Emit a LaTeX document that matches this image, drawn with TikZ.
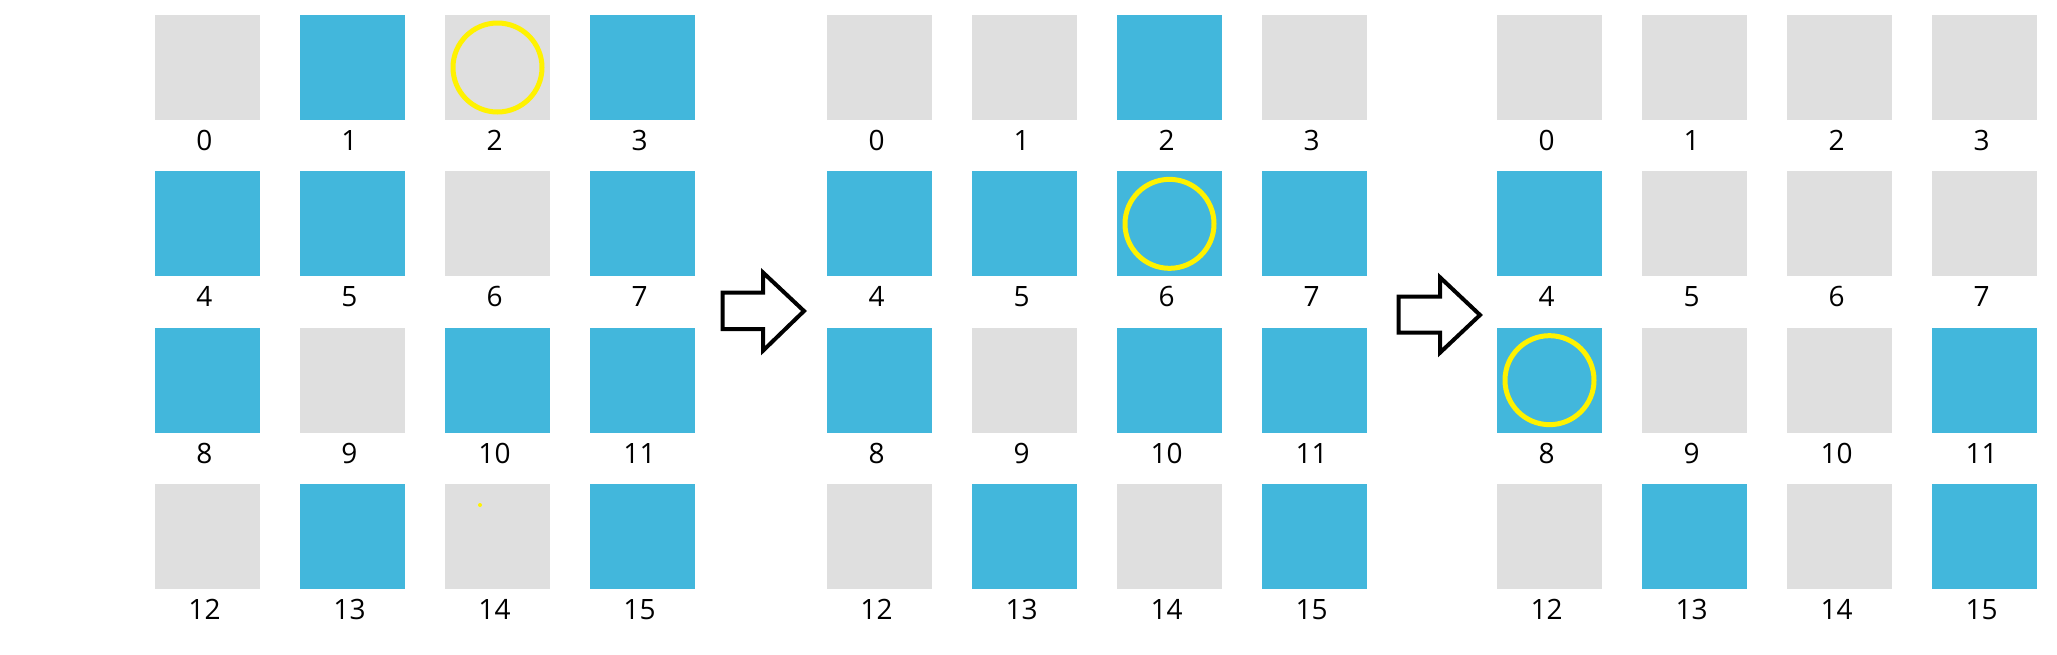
\documentclass[tikz,border=0pt]{standalone}
\usepackage{fontspec}
\setmainfont{Open Sans}
\definecolor{cellblue}{HTML}{42B7DC}
\definecolor{cellgray}{HTML}{DFDFDF}
\definecolor{ringyellow}{HTML}{FFF200}
\tikzset{
  cell/.style={minimum size=52.5pt,inner sep=0pt,outer sep=0pt},
  on/.style={cell,fill=cellblue},
  off/.style={cell,fill=cellgray},
  num/.style={font=\fontsize{14}{16}\selectfont,inner sep=0pt},
  ring/.style={circle,draw=ringyellow,line width=2.5pt,minimum size=44.5pt,inner sep=0pt},
  blockarrow/.style={draw=black,line width=2pt,line join=miter}
}
\newcommand{\cellgrid}[3]{%
  \foreach \s [count=\i from 0] in {#3} {
    \pgfmathsetmacro\cx{#2+52.5+145*mod(\i,4)}
    \pgfmathsetmacro\cy{67.5+156.33*div(\i,4)}
    \node[\s] (#1-\i) at (\cx,\cy) {};
    \node[num] (#1-n\i) at (\cx-3,\cy+73) {\i};
  }
}
\begin{document}
\begin{tikzpicture}[x=0.5pt,y=-0.5pt]
  \useasboundingbox (0,0) rectangle (2057,654);
  \cellgrid{a}{155}{off,on,off,on,on,on,off,on,on,off,on,on,off,on,off,on}
  \cellgrid{b}{827}{off,off,on,off,on,on,on,on,on,off,on,on,off,on,off,on}
  \cellgrid{c}{1497}{off,off,off,off,on,off,off,off,on,off,off,on,off,on,off,on}
  \node[ring] (a-ring) at (a-2) {};
  \node[ring] (b-ring) at (b-6) {};
  \node[ring] (c-ring) at (c-8) {};
  \fill[ringyellow] (480,505) circle (1pt);
  \draw[blockarrow] (722.7,292.7) -- (763,292.7) -- (763,272.5) -- (804,311)
    -- (763,350.7) -- (763,329) -- (722.7,329) -- cycle;
  \draw[blockarrow] (1398.7,296.7) -- (1440,296.7) -- (1440,277.3) -- (1480,315)
    -- (1440,352.7) -- (1440,332.7) -- (1398.7,332.7) -- cycle;
\end{tikzpicture}
\end{document}
